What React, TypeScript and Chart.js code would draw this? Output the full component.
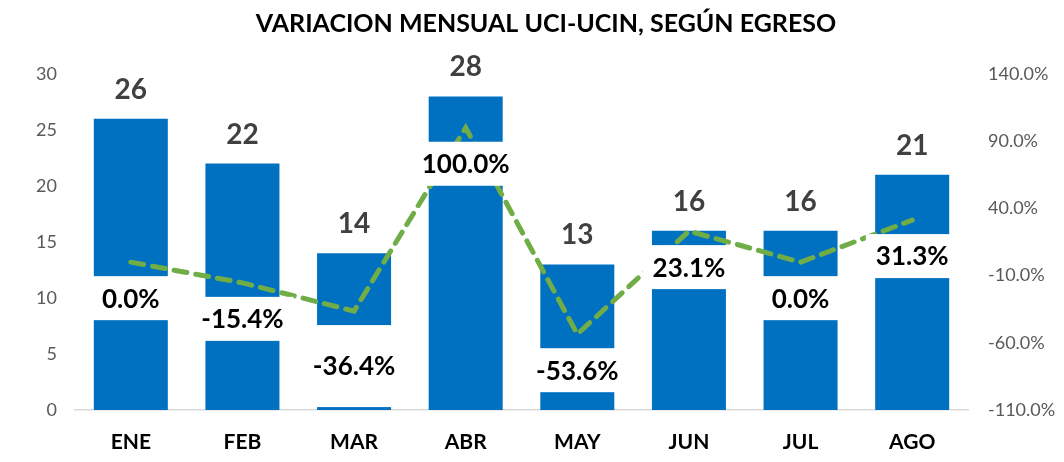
import React, { useEffect, useRef } from "react";
import { Chart, registerables } from "chart.js";

Chart.register(...registerables);

const categories = ["ENE", "FEB", "MAR", "ABR", "MAY", "JUN", "JUL", "AGO"];
const egresos = [26, 22, 14, 28, 13, 16, 16, 21];
const variacion = [0.0, -15.4, -36.4, 100.0, -53.6, 23.1, 0.0, 31.3];
const leftTicks = [0, 5, 10, 15, 20, 25, 30];
const rightTicks = [-110, -60, -10, 40, 90, 140];
const title = "VARIACION MENSUAL UCI-UCIN, SEGÚN EGRESO";

const FONT = "Lato, 'Noto Sans', sans-serif";

// style: label box geometry (taller box for MAR label, as in the reference)
const LABEL_BOX = { gap: 14, height: 44, padX: 10, tallHeight: { MAR: 82 } as Record<string, number> };

const labelPlugin = {
  id: "customLabels",
  afterDatasetsDraw(chart: any) {
    const ctx = chart.ctx;
    ctx.save();
    // bar value labels
    const barMeta = chart.getDatasetMeta(0);
    ctx.font = `bold 28px ${FONT}`;
    ctx.fillStyle = "#404040";
    ctx.textAlign = "center";
    ctx.textBaseline = "middle";
    barMeta.data.forEach((el: any, i: number) => {
      ctx.fillText(String(egresos[i]), el.x, el.y - 29);
    });
    // line labels with white boxes
    const lineMeta = chart.getDatasetMeta(1);
    ctx.font = `bold 26px ${FONT}`;
    lineMeta.data.forEach((el: any, i: number) => {
      const txt = variacion[i].toFixed(1) + "%";
      const w = ctx.measureText(txt).width + 2 * LABEL_BOX.padX;
      const h = LABEL_BOX.tallHeight[categories[i]] ?? LABEL_BOX.height;
      const top = el.y + LABEL_BOX.gap;
      ctx.fillStyle = "#ffffff";
      ctx.fillRect(el.x - w / 2, top, w, h);
      ctx.fillStyle = "#000000";
      ctx.fillText(txt, el.x, top + h / 2 + 1);
    });
    // title
    ctx.font = `bold 25px ${FONT}`;
    ctx.fillStyle = "#000000";
    const tw = ctx.measureText(title).width;
    const target = 592;
    const sx = tw > target ? target / tw : 1;
    ctx.translate(546, 24);
    ctx.scale(sx, 1);
    ctx.fillText(title, 0, 0);
    ctx.restore();
  },
};

export default function App() {
  const ref = useRef<HTMLCanvasElement | null>(null);
  useEffect(() => {
    if (!ref.current) return;
    const chart = new Chart(ref.current, {
      type: "bar",
      data: {
        labels: categories,
        datasets: [
          {
            type: "bar",
            data: egresos,
            backgroundColor: "#0070C0",
            yAxisID: "y",
            barPercentage: 0.663,
            categoryPercentage: 1,
            order: 1,
          },
          {
            type: "line",
            data: variacion,
            borderColor: "#70AD47",
            borderWidth: 5,
            borderDash: [13, 9],
            borderCapStyle: "round",
            pointRadius: 0,
            fill: false,
            yAxisID: "y1",
            order: 0,
          } as any,
        ],
      },
      options: {
        animation: false,
        responsive: true,
        maintainAspectRatio: false,
        layout: { padding: { top: 74, left: 0, right: 0, bottom: 0 } },
        plugins: {
          legend: { display: false },
          title: { display: false },
          tooltip: { enabled: false },
        },
        scales: {
          x: {
            grid: { display: false, drawTicks: false },
            border: { display: true, color: "#D9D9D9", width: 1.5 },
            ticks: {
              color: "#000000",
              font: { family: FONT, size: 21, weight: "bold" },
              padding: 20,
            },
            afterFit: (s: any) => {
              s.height = 52;
            },
          },
          y: {
            position: "left",
            min: 0,
            max: 30,
            afterBuildTicks: (s: any) => {
              s.ticks = leftTicks.map((v) => ({ value: v }));
            },
            grid: { display: false, drawTicks: false },
            border: { display: false },
            ticks: {
              color: "#595959",
              font: { family: FONT, size: 18 },
              padding: 18,
            },
            afterFit: (s: any) => {
              s.width = 75;
            },
          },
          y1: {
            position: "right",
            min: -110,
            max: 140,
            afterBuildTicks: (s: any) => {
              s.ticks = rightTicks.map((v) => ({ value: v }));
            },
            grid: { display: false, drawTicks: false },
            border: { display: false },
            ticks: {
              color: "#595959",
              font: { family: FONT, size: 18 },
              padding: 20,
              callback: (v: any) => Number(v).toFixed(1) + "%",
            },
            afterFit: (s: any) => {
              s.width = 96;
            },
          },
        },
      },
      plugins: [labelPlugin],
    });
    return () => chart.destroy();
  }, []);
  return (
    <div style={{ position: "fixed", left: 0, top: 0, width: 1064, height: 462, background: "#fff" }}>
      <canvas ref={ref} />
    </div>
  );
}
